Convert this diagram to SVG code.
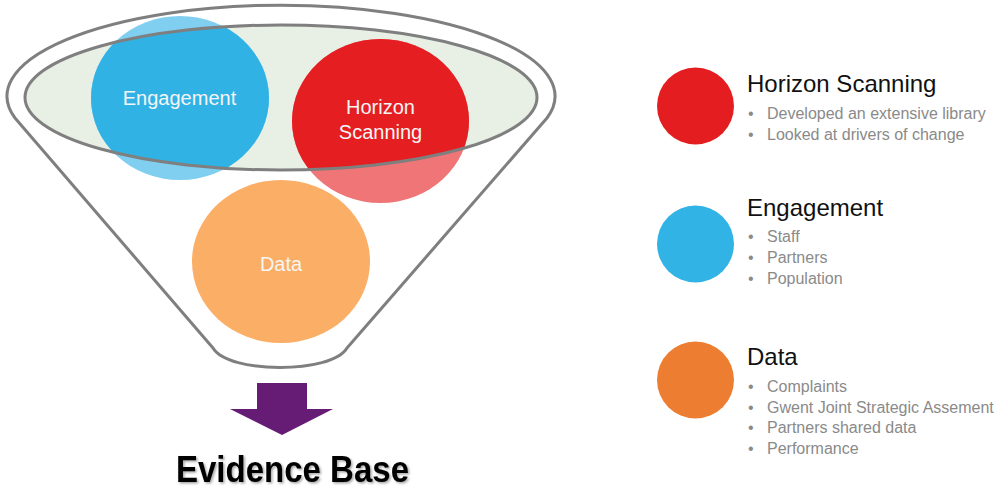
<svg xmlns="http://www.w3.org/2000/svg" width="995" height="490" viewBox="0 0 995 490">
  <style>
    .outline { fill: none; stroke: #7f7f7f; stroke-width: 3; stroke-linejoin: round; }
    .lbl { font-family: "Liberation Sans", Arial, sans-serif; font-size: 20px; fill: #f5f5f5; text-anchor: middle; }
    .head { font-family: "Liberation Sans", Arial, sans-serif; font-size: 24px; fill: #111111; }
    .bul { font-family: "Liberation Sans", Arial, sans-serif; font-size: 16px; fill: #8a8a8a; }
    .title { font-family: "Liberation Sans", Arial, sans-serif; font-size: 37px; font-weight: bold; fill: #000000; }
  </style>
  <defs>
    <clipPath id="innerClip">
      <ellipse cx="281" cy="97.5" rx="256" ry="72.5"/>
    </clipPath>
    <filter id="shadow" x="-10%" y="-30%" width="120%" height="160%">
      <feDropShadow dx="1.5" dy="1.5" stdDeviation="1" flood-color="#000" flood-opacity="0.35"/>
    </filter>
  </defs>
  <rect width="995" height="490" fill="#ffffff"/>

  <g id="funnel">
    <path d="M 15,118 A 274 91 0 1 1 547,118 L 347,348 C 332,374 228,374 213,348 Z" fill="#ffffff" stroke="#7f7f7f" stroke-width="3" stroke-linejoin="round"/>
    <ellipse cx="281" cy="97.5" rx="256" ry="72.5" fill="#e8efe4"/>
  </g>

  <g id="data">
    <ellipse cx="281" cy="261.5" rx="89" ry="81.5" fill="#fbae66"/>
    <text class="lbl" x="281" y="271">Data</text>
  </g>

  <g id="engagement">
    <ellipse cx="180" cy="98" rx="89" ry="82" fill="#80cff0"/>
    <ellipse cx="180" cy="98" rx="89" ry="82" fill="#31b2e5" clip-path="url(#innerClip)"/>
  </g>

  <g id="horizon-scanning">
    <ellipse cx="380.5" cy="121" rx="88.5" ry="82" fill="#ef7577"/>
    <ellipse cx="380.5" cy="121" rx="88.5" ry="82" fill="#e41e21" clip-path="url(#innerClip)"/>
  </g>

  <g id="funnel-rim">
    <ellipse class="outline" cx="281" cy="97.5" rx="256" ry="72.5"/>
  </g>

  <g id="circle-labels">
    <text class="lbl" x="179.5" y="105">Engagement</text>
    <text class="lbl" x="380.5" y="114">Horizon</text>
    <text class="lbl" x="380.5" y="139">Scanning</text>
  </g>

  <g id="connectors">
    <polygon points="257,383 307,383 307,409 333,409 282,435 230,409 257,409" fill="#661c75"/>
  </g>

  <g id="evidence-base">
    <text class="title" x="176" y="482" textLength="233" lengthAdjust="spacingAndGlyphs" filter="url(#shadow)">Evidence Base</text>
  </g>

  <g id="legend-horizon">
    <circle cx="695.5" cy="106" r="38.5" fill="#e41e20"/>
    <text class="head" x="747" y="92">Horizon Scanning</text>
    <text class="bul" x="748" y="119">•</text>
    <text class="bul" x="767" y="119">Developed an extensive library</text>
    <text class="bul" x="748" y="140">•</text>
    <text class="bul" x="767" y="140">Looked at drivers of change</text>
  </g>

  <g id="legend-engagement">
    <circle cx="695.5" cy="244" r="38.5" fill="#32b3e6"/>
    <text class="head" x="747" y="216">Engagement</text>
    <text class="bul" x="748" y="242">•</text>
    <text class="bul" x="767" y="242">Staff</text>
    <text class="bul" x="748" y="263">•</text>
    <text class="bul" x="767" y="263">Partners</text>
    <text class="bul" x="748" y="284">•</text>
    <text class="bul" x="767" y="284">Population</text>
  </g>

  <g id="legend-data">
    <circle cx="695.5" cy="380" r="38.5" fill="#ed7d31"/>
    <text class="head" x="747" y="365">Data</text>
    <text class="bul" x="748" y="392">•</text>
    <text class="bul" x="767" y="392">Complaints</text>
    <text class="bul" x="748" y="413">•</text>
    <text class="bul" x="767" y="413">Gwent Joint Strategic Assement</text>
    <text class="bul" x="748" y="433">•</text>
    <text class="bul" x="767" y="433">Partners shared data</text>
    <text class="bul" x="748" y="454">•</text>
    <text class="bul" x="767" y="454">Performance</text>
  </g>
</svg>
